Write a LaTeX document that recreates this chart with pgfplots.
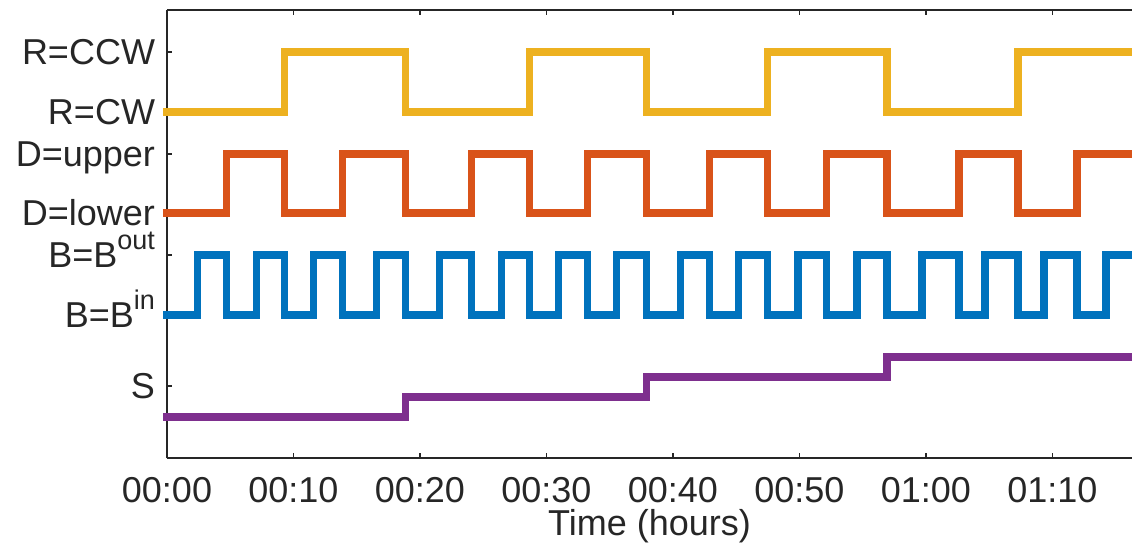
\documentclass[border=0pt]{standalone}
\usepackage{pgfplots}
\pgfplotsset{compat=1.18}
\usepackage{fontspec}
\setmainfont{Liberation Sans}

\definecolor{cR}{rgb}{0.929,0.694,0.125}
\definecolor{cD}{rgb}{0.850,0.325,0.098}
\definecolor{cB}{rgb}{0,0.447,0.741}
\definecolor{cS}{rgb}{0.494,0.184,0.556}
\definecolor{axgray}{rgb}{0.15,0.15,0.15}

\newcommand{\bigfont}{\fontsize{36}{43}\selectfont}
% superscript for the field labels
\newcommand{\sups}[1]{\raisebox{18pt}{\fontsize{27}{32}\selectfont #1}}

\begin{document}
\begin{tikzpicture}
\begin{axis}[
  name=ax,
  scale only axis,
  width=965pt, height=448pt,
  xmin=0, xmax=76.3,
  ymin=0, ymax=448,
  clip=false,
  axis x line=box, axis y line=left,
  axis line style={axgray, line width=2.5pt},
  x axis line style={-}, y axis line style={-},
  tick align=inside,
  major tick length=5pt,
  tick style={axgray, line width=1.5pt},
  xtick={0,10,20,30,40,50,60,70},
  xticklabels={00:00,00:10,00:20,00:30,00:40,00:50,01:00,01:10},
  ytick={72,143,203,245,304,346,406},
  yticklabels={S, B=B\sups{in}, B=B\sups{out}, D=lower, D=upper, R=CW, R=CCW},
  tick label style={font=\bigfont, text=axgray},
  xticklabel style={anchor=base, yshift=-44pt},
  yticklabel style={anchor=base east, inner sep=0pt, outer sep=0pt, yshift=-12.9pt, xshift=-12pt},
  xlabel={Time (hours)},
  label style={font=\bigfont, text=axgray},
  xlabel style={at={(axis description cs:0.5,0)}, anchor=base, yshift=-77pt},
  every axis plot/.append style={const plot, line width=7.3pt, line join=miter, line cap=rect},
]
% rotation R
\addplot[cR] coordinates {
  (0,346)(9.30,406)(18.87,346)(28.68,406)(37.93,346)(47.50,406)(56.92,346)(67.28,406)(77,406)
};
% direction D
\addplot[cD] coordinates {
  (0,245)(4.71,304)(9.30,245)(13.88,304)(18.87,245)(24.09,304)(28.68,245)(33.27,304)
  (37.93,245)(42.91,304)(47.50,245)(52.17,304)(56.92,245)(62.61,304)(67.28,245)(71.95,304)(77,304)
};
% field B
\addplot[cB] coordinates {
  (0,143)(2.41,203)(4.71,143)(7.08,203)(9.30,143)(11.59,203)(13.88,143)(16.57,203)
  (18.87,143)(21.56,203)(24.09,143)(26.46,203)(28.68,143)(30.97,203)(33.27,143)(35.56,203)
  (37.93,143)(40.62,203)(42.91,143)(45.21,203)(47.50,143)(49.88,203)(52.17,143)(54.55,203)
  (56.92,143)(59.69,203)(62.61,143)(64.67,203)(67.28,143)(69.34,203)(71.95,143)(74.24,203)(77,203)
};
% session S
\addplot[cS] coordinates {
  (0,41)(18.87,61)(37.93,81)(56.92,101)(77,101)
};
\end{axis}
\pgfresetboundingbox
\path[use as bounding box] ([shift={(-167pt,-86pt)}]ax.south west) rectangle ([shift={(0pt,10pt)}]ax.north east);
\end{tikzpicture}
\end{document}
